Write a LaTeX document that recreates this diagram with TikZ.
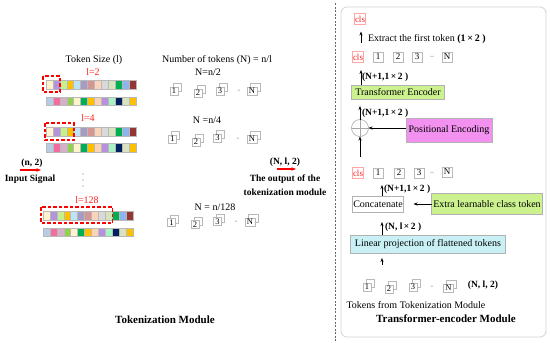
\documentclass[tikz,border=0pt]{standalone}
\usepackage{fontspec}
\setmainfont{Liberation Serif}
\usetikzlibrary{arrows.meta,calc}
\definecolor{tA}{HTML}{FFF2CC}\definecolor{tB}{HTML}{B294DC}\definecolor{tC}{HTML}{C6F08E}
\definecolor{tD}{HTML}{FFC000}\definecolor{tE}{HTML}{BDE3F7}\definecolor{tF}{HTML}{A59BC3}
\definecolor{tG}{HTML}{D69595}\definecolor{tH}{HTML}{FAD3B8}\definecolor{tI}{HTML}{D9D9D9}
\definecolor{tJ}{HTML}{D8E4BC}\definecolor{tK}{HTML}{00B050}\definecolor{tL}{HTML}{8EB4F0}
\definecolor{tM}{HTML}{943634}
\definecolor{bA}{HTML}{B8CCE4}\definecolor{bB}{HTML}{F26D9E}\definecolor{bC}{HTML}{D5B1C9}
\definecolor{bD}{HTML}{92D050}\definecolor{bE}{HTML}{FFF2CC}\definecolor{bF}{HTML}{00B050}
\definecolor{bG}{HTML}{FFC000}\definecolor{bH}{HTML}{FBD4B4}\definecolor{bI}{HTML}{B98FE0}
\definecolor{bJ}{HTML}{A6F3C3}\definecolor{bK}{HTML}{002060}\definecolor{bL}{HTML}{D7E4BD}
\definecolor{bM}{HTML}{FFC000}
\definecolor{encgreen}{HTML}{CCF28F}
\definecolor{pemag}{HTML}{F291F0}
\definecolor{lincyan}{HTML}{C9F1F5}
\definecolor{myred}{HTML}{FF2020}
\definecolor{dashred}{HTML}{FF0000}
\newcommand\stk[4]{%
  \node[tokf] (#1b) at ($(#2,#3)+(3,-3.5)$) {};
  \node[tokf] (#1) at (#2,#3) {#4};}
\newcommand\stkN[3]{%
  \node[tokf,minimum width=10pt] (#1b) at ($(#2,#3)+(3,-3.5)$) {};
  \node[tokf,minimum width=10pt] (#1) at (#2,#3) {N};}
\begin{document}
\begin{tikzpicture}[x=1pt,y=-1pt,font=\fontsize{10}{12}\selectfont,
  every node/.style={inner sep=0pt,outer sep=0pt},
  bl/.style={font=\fontsize{9.5}{11}\selectfont\bfseries},
  ttl/.style={font=\fontsize{11}{13}\selectfont\bfseries},
  redt/.style={text=myred},
  sq/.style={draw=gray!55,line width=0.3pt,minimum width=6.9pt,minimum height=8.5pt},
  reddash/.style={color=dashred,line width=1.1pt,dash pattern=on 3.5pt off 2pt},
  tokf/.style={draw=gray!55,fill=white,line width=0.5pt,minimum width=8pt,minimum height=8pt,font=\fontsize{8.5}{9}\selectfont},
  gdash/.style={text=gray,font=\fontsize{8}{9}\selectfont},
  rbox/.style={draw=gray!55,line width=0.5pt,minimum width=10pt,minimum height=10pt,font=\fontsize{9}{10}\selectfont},
  clsb/.style={draw=red!35,line width=0.5pt,text=myred,minimum width=11pt,minimum height=11pt,font=\fontsize{9}{10}\selectfont},
  blk/.style={draw=gray!60,line width=0.6pt,align=center},
  arr/.style={-{Stealth[length=4pt,width=3pt]},line width=0.6pt},
  rarr/.style={-{Stealth[length=4.5pt,width=3.5pt]},line width=1.2pt,color=dashred}]
\useasboundingbox (0,0) rectangle (550,343);
\fill[white] (0,0) rectangle (550,343);

% ---------- Tokenization module ----------
\node (tsz) at (94,60) {Token Size (l)};
\node[redt] (l2) at (93,72) {l=2};
\node[redt] (l4) at (88,118) {l=4};
\node[redt] (l128) at (87,200) {l=128};

\foreach \c [count=\i] in {tA,tB,tC,tD,tE,tF,tG,tH,tI,tJ,tK,tL,tM}{
  \node[sq,fill=\c] (s1t\i) at ({49.45+(\i-1)*6.9},84.5) {};
  \node[sq,fill=\c] (s2t\i) at ({49.45+(\i-1)*6.9},131.5) {};
  \node[sq,fill=\c] (s3t\i) at ({46.45+(\i-1)*6.9},215.5) {};
}
\foreach \c [count=\i] in {bA,bB,bC,bD,bE,bF,bG,bH,bI,bJ,bK,bL,bM}{
  \node[sq,fill=\c] (s1b\i) at ({49.45+(\i-1)*6.9},101) {};
  \node[sq,fill=\c] (s2b\i) at ({49.45+(\i-1)*6.9},147.5) {};
  \node[sq,fill=\c] (s3b\i) at ({46.45+(\i-1)*6.9},232) {};
}
\draw[reddash] (43,76) rectangle (60,92);
\draw[reddash] (45,123) rectangle (74,140);
\draw[reddash] (41,207) rectangle (112.5,223);

\node[bl] (n2lab) at (32,163) {(n, 2)};
\coordinate (ia) at (20,170);
\coordinate (ib) at (41,170);
\draw[rarr] (ia) -- (ib);
\node[bl] (insig) at (30,179) {Input Signal};
\fill[gray] (83,174) circle (0.6) (83,180) circle (0.6) (83,186) circle (0.6);

\node (ntok) at (217,60) {Number of tokens (N) = n/l};
\node (nn2) at (208,72) {N=n/2};
\stk{ra1}{174}{91}{1}
\stk{ra2}{198}{93}{2}
\stk{ra3}{220}{91}{3}
\node[gdash] (ra4) at (239,91) {-};
\stkN{raN}{252}{91}

\node (nn4) at (207,120) {N =n/4};
\stk{rb1}{172.5}{139}{1}
\stk{rb2}{196}{142}{2}
\stk{rb3}{217.5}{138}{3}
\node[gdash] (rb4) at (238,139) {-};
\stkN{rbN}{252}{139}

\node (nn128) at (215,207) {N = n/128};
\stk{rd1}{171.5}{222.5}{1}
\stk{rd2}{195}{224.5}{2}
\stk{rd3}{217.5}{221.5}{3}
\node[gdash] (rd4) at (236,222) {-};
\stkN{rdN}{250}{222}

\node[bl] (nl2) at (285,162) {(N, l, 2)};
\coordinate (oa) at (277,169);
\coordinate (ob) at (296,169);
\draw[rarr] (oa) -- (ob);
\node[bl] (out1) at (285,179) {The output of the};
\node[bl] (out2) at (285,192) {tokenization module};

\node[ttl] (tmod) at (165,320) {Tokenization Module};

% ---------- divider and panel ----------
\draw[gray!80!black,line width=0.6pt,dash pattern=on 2pt off 1.5pt] (335,3) -- (335,343);
\draw[gray!35,line width=0.8pt,rounded corners=6pt] (341,7) rectangle (546,337);

% ---------- Transformer-encoder module ----------
\node[clsb] (cls0) at (360,19) {cls};
\coordinate (a1s) at (361,43);
\draw[arr,shorten >=7pt] (a1s) -- (a1s |- cls0.south);
\node[anchor=west] (ext) at (368,39) {Extract the first token \textbf{(1\,×\,2 )}};

\node[clsb] (cls1) at (358,57) {cls};
\node[rbox] (b11) at (378,57) {1};
\node[rbox] (b12) at (398,57) {2};
\node[rbox] (b13) at (417,57) {3};
\node[gdash] (b14) at (432,57) {–};
\node[rbox] (b1N) at (447,57) {N};

\node[blk,fill=encgreen,minimum width=93pt,minimum height=14pt] (enc) at (398,92) {Transformer Encoder};
\draw[arr,shorten >=8pt] (enc.north -| a1s) -- (b11.south -| a1s);
\node[bl,anchor=west] (lab1) at (362,77) {(N+1,1\,×\,2 )};

\node[circle,draw=gray!70,line width=0.6pt,minimum size=17pt] (plus) at (360,128) {};
\draw[gray!70,line width=0.6pt] (plus.north) -- (plus.south) (plus.west) -- (plus.east);
\draw[arr,shorten >=7pt] (plus.north) -- (plus.north |- enc.south);
\node[bl,anchor=west] (lab2) at (362,113) {(N+1,1\,×\,2 )};

\node[blk,fill=pemag,minimum width=86pt,minimum height=24pt] (pe) at (449,130) {Positional Encoding};
\draw[arr] (pe.west |- plus) -- (plus.east);
\coordinate (a3s) at (360,157);
\draw[arr] (a3s) -- (plus.south);

\node[clsb] (cls2) at (358,173) {cls};
\node[rbox] (b21) at (378,173) {1};
\node[rbox] (b22) at (399,173) {2};
\node[rbox] (b23) at (419,173) {3};
\node[gdash] (b24) at (432,173) {–};
\node[rbox] (b2N) at (447,172) {N};

\coordinate (cx) at (382,0);
\node[blk,fill=white,minimum width=51pt,minimum height=16pt] (concat) at (378,204) {Concatenate};
\draw[arr,shorten >=7pt] (concat.north -| cx) -- (b21.south -| cx);
\node[bl,anchor=west] (lab3) at (384,189) {(N+1,1\,×\,2 )};

\node[blk,fill=encgreen,minimum width=111pt,minimum height=21pt] (extra) at (487,204) {Extra learnable class token};
\draw[arr,shorten >=10pt] (extra.west) -- (concat.east);

\node[blk,fill=lincyan,minimum width=155pt,minimum height=18pt] (lin) at (428,244) {Linear projection of flattened tokens};
\draw[arr,shorten >=10pt] (lin.north -| cx) -- (concat.south -| cx);
\node[bl,anchor=west] (lab4) at (385,227) {(N, l\,×\,2 )};

\coordinate (a6s) at (382,265);
\draw[arr,shorten >=5pt] (a6s) -- (a6s |- lin.south);

\stk{rc1}{367}{287}{1}
\stk{rc2}{389}{289}{2}
\stk{rc3}{413}{287}{3}
\node[gdash] (rc4) at (432,287) {-};
\stkN{rcN}{448.5}{288}
\node[bl] (nl2b) at (483,285) {(N, l, 2)};

\node (tfrom) at (416,305) {Tokens from Tokenization Module};
\node[ttl] (tenc) at (446,319) {Transformer-encoder Module};
\end{tikzpicture}
\end{document}
